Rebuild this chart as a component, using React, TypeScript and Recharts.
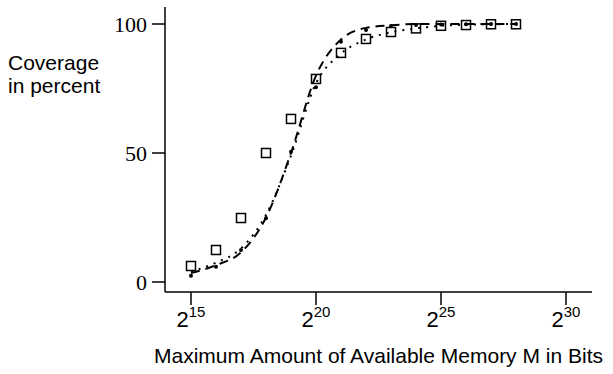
import { ComposedChart, Line, Scatter, XAxis, YAxis, Label } from "recharts";

// exponent of 2 (memory in bits)
const exponents = [15, 16, 17, 18, 19, 20, 21, 22, 23, 24, 25, 26, 27, 28];

// measured coverage, squares
const squareValues = [6.2, 12.4, 24.8, 50, 63.2, 78.7, 88.8, 94.2, 96.9, 98.3, 99.3, 99.6, 99.9, 99.9];
// measured coverage, dots
const dotValues = [2.4, 5.9, 12.4, 24.7, 50.5, 75.5, 93.1, 97.7, 99.2, 99.6, 99.8, 99.9, 100, 100];

// fitted curves
const dashedValues = [3.5, 6.5, 11.5, 25, 50, 80, 94, 98.5, 99.5, 100, 100, 100, 100, 100];
const dottedValues = [4, 7.5, 13, 26, 49, 77, 88.5, 94, 96.8, 98.3, 99.3, 99.7, 99.9, 100];

const xTicks = [15, 20, 25, 30];
const yTicks = [0, 50, 100];

const toRows = (vals: number[]) => exponents.map((x, i) => ({ x, y: vals[i] }));

const squares = toRows(squareValues);
const dots = toRows(dotValues);
const dashed = toRows(dashedValues);
const dotted = toRows(dottedValues);

const SANS = '"Liberation Sans", Arial, Helvetica, sans-serif';
const SERIF = '"Liberation Serif", "Times New Roman", serif';

const PowerTick = (props: any) => {
  const { x, y, payload } = props;
  return (
    <text x={x} y={y + 20} textAnchor="middle" fontFamily={SANS} fill="#000">
      <tspan fontSize={22}>2</tspan>
      <tspan fontSize={15} dy={-10}>{payload.value}</tspan>
    </text>
  );
};

const SquareShape = (props: any) => {
  const { cx, cy } = props;
  return <rect x={cx - 4.5} y={cy - 4.5} width={9} height={9} fill="none" stroke="#000" strokeWidth={1.5} />;
};

const DotShape = (props: any) => {
  const { cx, cy } = props;
  return <circle cx={cx} cy={cy} r={2} fill="#000" />;
};

export default function App() {
  return (
    <div style={{ position: "absolute", left: 0, top: 0, background: "#fff" }}>
      <ComposedChart width={613} height={374} margin={{ top: 7, right: 21, bottom: 0, left: 0 }}>
        <XAxis
          xAxisId="b"
          dataKey="x"
          type="number"
          domain={[13.96, 31.04]}
          ticks={xTicks}
          allowDataOverflow
          height={82}
          tickSize={13}
          tickMargin={2}
          tick={<PowerTick />}
          stroke="#000"
          strokeWidth={1.5}
        >
          <Label
            content={(p: any) => {
              const vb = p.viewBox;
              return (
                <text x={vb.x + vb.width / 2} y={vb.y + 71} textAnchor="middle" fontFamily={SANS} fontSize={21} fill="#000">
                  Maximum Amount of Available Memory M in Bits
                </text>
              );
            }}
          />
        </XAxis>
        <XAxis xAxisId="t" orientation="top" type="number" domain={[13.96, 31.04]} height={0} tick={false} tickLine={false} stroke="#000" strokeWidth={1.5} />
        <YAxis
          yAxisId="l"
          type="number"
          domain={[-3.88, 106.59]}
          ticks={yTicks}
          allowDataOverflow
          width={165}
          tickSize={13}
          tickMargin={5}
          tick={{ fontFamily: SERIF, fontSize: 22, fill: "#000" }}
          stroke="#000"
          strokeWidth={1.5}
        >
          <Label
            content={() => (
              <text fontFamily={SANS} fontSize={21} fill="#000">
                <tspan x={8} y={70}>Coverage</tspan>
                <tspan x={8} y={93}>in percent</tspan>
              </text>
            )}
          />
        </YAxis>
        <YAxis yAxisId="r" orientation="right" type="number" domain={[-3.88, 106.59]} width={0} tick={false} tickLine={false} stroke="#000" strokeWidth={1.5} />

        <Line
          xAxisId="b"
          yAxisId="l"
          data={dashed}
          dataKey="y"
          type="monotone"
          stroke="#000"
          strokeWidth={2}
          strokeDasharray="9 6"
          dot={false}
          isAnimationActive={false}
        />
        <Line
          xAxisId="b"
          yAxisId="l"
          data={dotted}
          dataKey="y"
          type="monotone"
          stroke="#000"
          strokeWidth={2}
          strokeDasharray="2 6"
          dot={false}
          isAnimationActive={false}
        />
        <Scatter xAxisId="b" yAxisId="l" data={squares} dataKey="y" shape={<SquareShape />} isAnimationActive={false} />
        <Scatter xAxisId="b" yAxisId="l" data={dots} dataKey="y" shape={<DotShape />} isAnimationActive={false} />
      </ComposedChart>
    </div>
  );
}
